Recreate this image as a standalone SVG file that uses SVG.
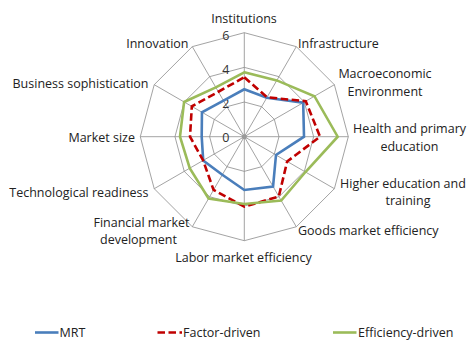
<svg xmlns="http://www.w3.org/2000/svg" width="470" height="341" viewBox="0 0 470 341">
<style>
.grid{fill:none;stroke:#8c8c8c;stroke-width:0.8}
.lbl{font-family:"Open Sans","Noto Sans",sans-serif;font-size:12.5px;fill:#222}
.tick{font-family:"Open Sans","Noto Sans",sans-serif;font-size:12.5px;fill:#333;text-anchor:end}
.s{fill:none;stroke-width:2.6;stroke-linejoin:miter}
.mrt{stroke:#4a7ebb}
.fac{stroke:#c00000;stroke-dasharray:7.5,3.5}
.eff{stroke:#9bbb59}
</style>
<rect width="470" height="341" fill="#fff"/>
<g id="grid" transform="translate(244.3,136.7)">
<polygon class="grid" points="0,-104 52,-90.07 90.07,-52 104,0 90.07,52 52,90.07 0,104 -52,90.07 -90.07,52 -104,0 -90.07,-52 -52,-90.07"/>
<polygon class="grid" points="0,-69.33 34.67,-60.04 60.04,-34.67 69.33,0 60.04,34.67 34.67,60.04 0,69.33 -34.67,60.04 -60.04,34.67 -69.33,0 -60.04,-34.67 -34.67,-60.04"/>
<polygon class="grid" points="0,-34.67 17.33,-30.02 30.02,-17.33 34.67,0 30.02,17.33 17.33,30.02 0,34.67 -17.33,30.02 -30.02,17.33 -34.67,0 -30.02,-17.33 -17.33,-30.02"/>
<path class="grid" d="M0,0L0,-104M0,0L52,-90.07M0,0L90.07,-52M0,0L104,0M0,0L90.07,52M0,0L52,90.07M0,0L0,104M0,0L-52,90.07M0,0L-90.07,52M0,0L-104,0M0,0L-90.07,-52M0,0L-52,-90.07"/>
<circle r="2.5" fill="#999"/>
</g>
<g id="ticks">
<text class="tick" x="229.5" y="141.7">0</text>
<text class="tick" x="229.5" y="107.8">2</text>
<text class="tick" x="229.5" y="73.8">4</text>
<text class="tick" x="229.5" y="39.5">6</text>
</g>
<g id="series" transform="translate(244.3,136.7)">
<polygon id="mrt" class="s mrt" points="0,-47.4 22.5,-38.97 58.89,-34 59.7,0 31.7,18.3 28.75,49.8 0,53.3 -22,38.1 -41.1,23.75 -42.6,0 -42.35,-24.45 -20.8,-36.03"/>
<polygon id="factor" class="s fac" points="0,-59.4 22.75,-39.4 61.49,-35.5 75.7,0 42.87,24.75 34.5,59.76 0,70 -30.75,53.26 -41.14,23.75 -54.3,0 -52.48,-30.3 -25.95,-44.95"/>
<polygon id="efficiency" class="s eff" points="0,-64.4 32.5,-56.29 70.15,-40.5 93.4,0 61.14,35.3 36.9,63.91 0,67.3 -35.7,61.83 -54.56,31.5 -64.3,0 -60.19,-34.75 -28.5,-49.36"/>
</g>
<g id="labels" class="lbl">
<text x="244" y="23" text-anchor="middle">Institutions</text>
<text x="298" y="47.5">Infrastructure</text>
<text x="385" y="78" text-anchor="middle">Macroeconomic</text>
<text x="385" y="96" text-anchor="middle">Environment</text>
<text x="409.5" y="133" text-anchor="middle">Health and primary</text>
<text x="409.5" y="150.5" text-anchor="middle">education</text>
<text x="403" y="187.5" text-anchor="middle">Higher education and</text>
<text x="408" y="205" text-anchor="middle">training</text>
<text x="298" y="235">Goods market efficiency</text>
<text x="243.5" y="261.5" text-anchor="middle">Labor market efficiency</text>
<text x="141.5" y="226.5" text-anchor="middle">Financial market</text>
<text x="138.5" y="244" text-anchor="middle">development</text>
<text x="148.5" y="197" text-anchor="end">Technological readiness</text>
<text x="135" y="141.5" text-anchor="end">Market size</text>
<text x="148.5" y="87.5" text-anchor="end">Business sophistication</text>
<text x="188.5" y="48" text-anchor="end">Innovation</text>
</g>
<g id="legend">
<line class="s mrt" x1="35" y1="332.5" x2="58.5" y2="332.5"/>
<text class="lbl" x="59.5" y="337">MRT</text>
<line class="s fac" x1="157.5" y1="332.5" x2="182" y2="332.5"/>
<text class="lbl" x="183" y="337">Factor-driven</text>
<line class="s eff" x1="333" y1="332.5" x2="356.5" y2="332.5"/>
<text class="lbl" x="358" y="337">Efficiency-driven</text>
</g>
</svg>
